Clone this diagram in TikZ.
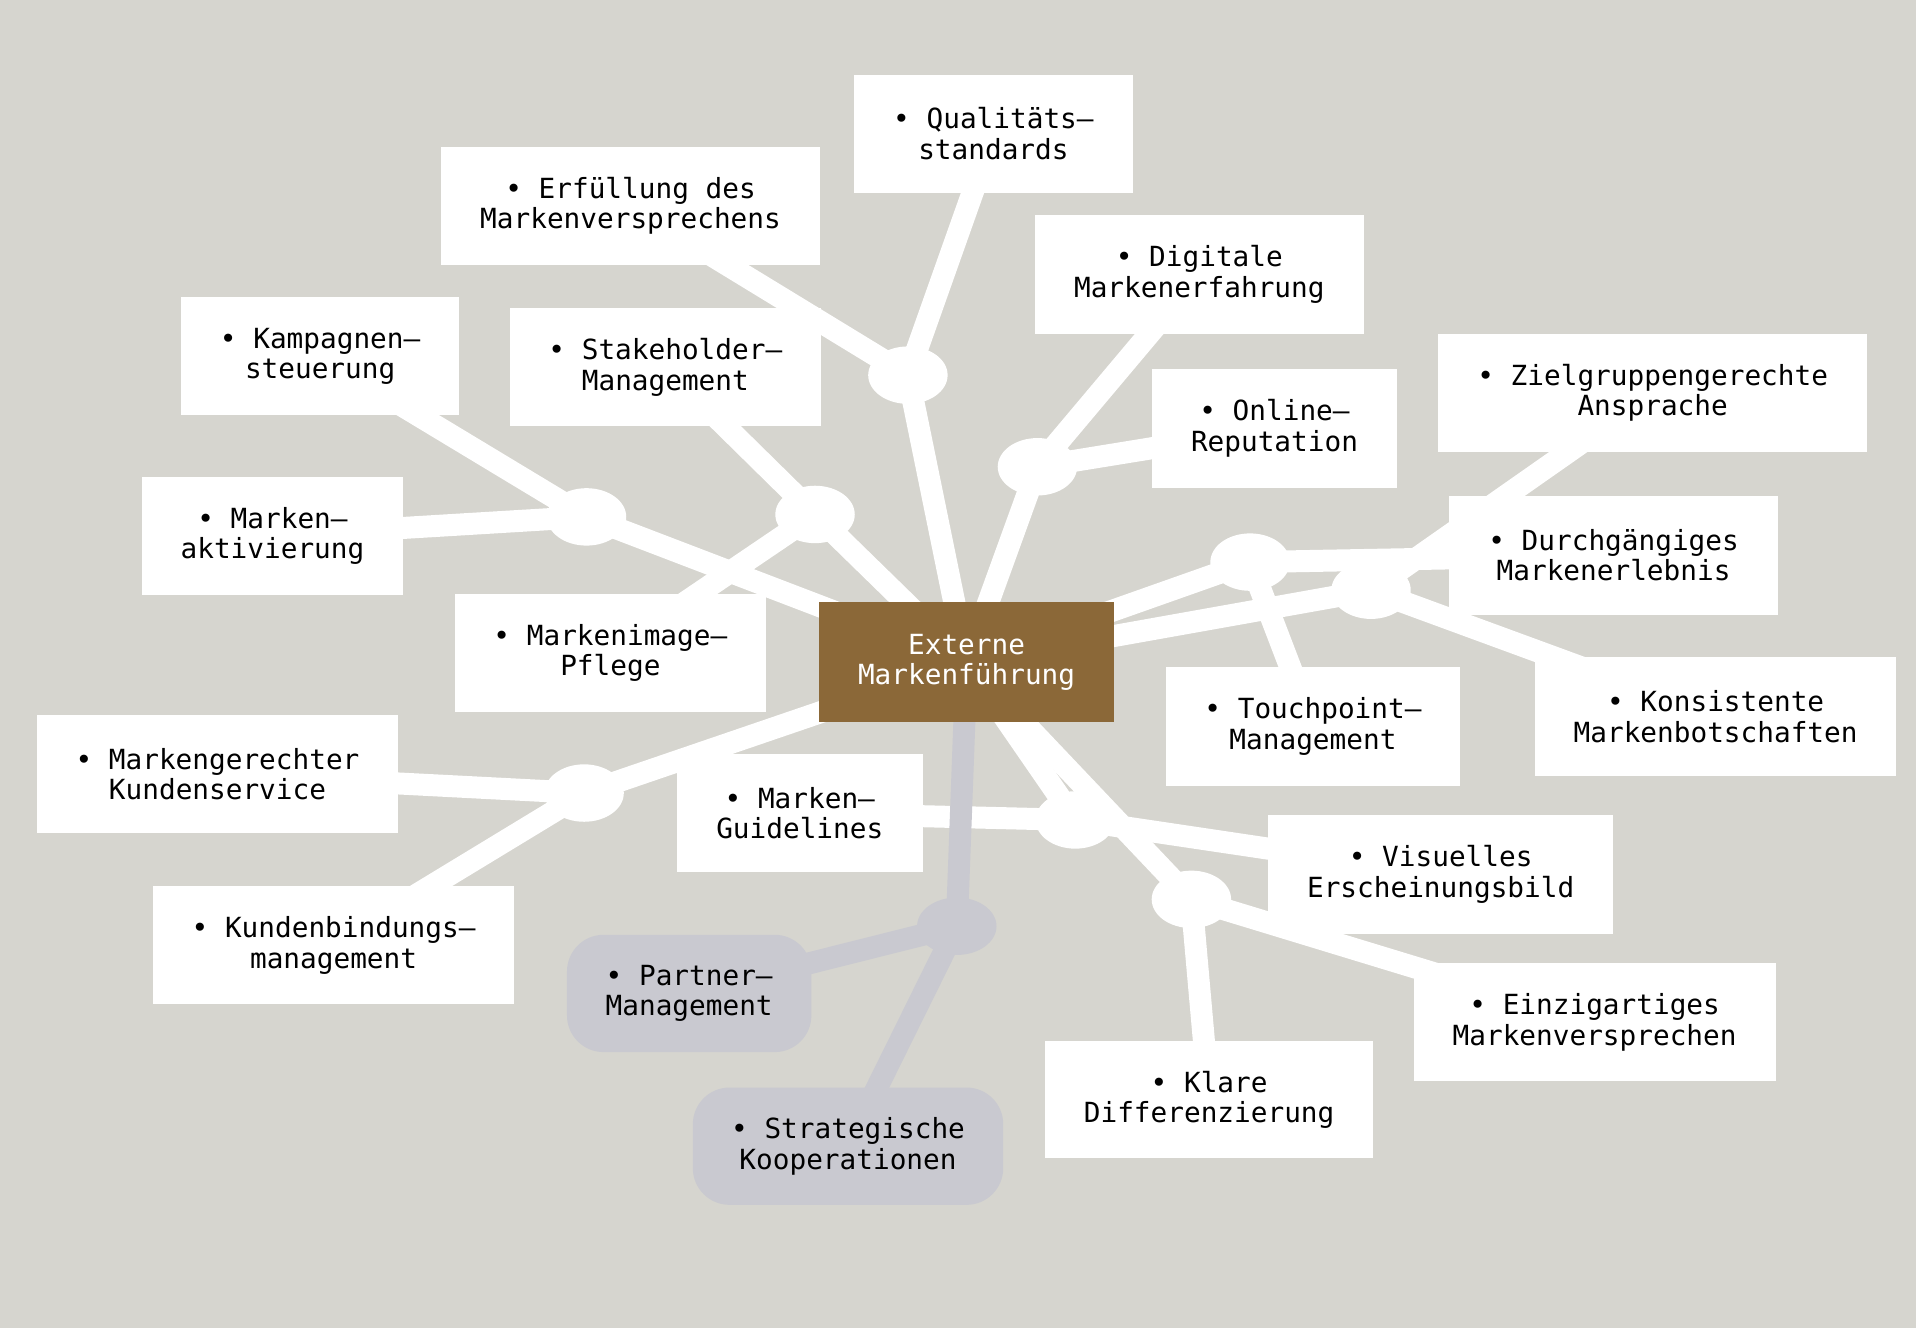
\documentclass[tikz,border=0pt]{standalone}
\usepackage{fontspec}
\setmainfont{DejaVu Sans Mono}
\usetikzlibrary{shapes.geometric,backgrounds}
\definecolor{bgc}{RGB}{214,213,207}
\definecolor{mbrown}{RGB}{139,104,56}
\definecolor{lgrey}{RGB}{201,201,208}
\begin{document}
\begin{tikzpicture}[x=0.5pt,y=-0.5pt,
  txt/.style={align=center,font=\fontsize{11.35pt}{12.5pt}\selectfont},
  box/.style 2 args={txt,fill=white,text=black,inner sep=0pt,minimum width=#1*0.5pt,minimum height=#2*0.5pt},
  gbox/.style 2 args={txt,fill=lgrey,text=black,inner sep=0pt,rounded corners=15pt,minimum width=#1*0.5pt,minimum height=#2*0.5pt},
  mainbox/.style 2 args={txt,fill=mbrown,text=white,inner sep=0pt,minimum width=#1*0.5pt,minimum height=#2*0.5pt},
  junc/.style={ellipse,fill=white,inner sep=0pt,minimum width=32.5pt,minimum height=23.5pt},
  gjunc/.style={junc,fill=lgrey},
  conn/.style={white,line width=9pt},
  gconn/.style={lgrey,line width=9pt}]
\useasboundingbox (0,0) rectangle (1568,1087);

% junctions
\node[junc] (j1) at (743,307) {};
\node[junc] (j2) at (849,382) {};
\node[junc] (j3) at (480,423) {};
\node[junc] (j4) at (667,421) {};
\node[junc] (j5) at (1023,460) {};
\node[junc] (j6) at (1122,483) {};
\node[junc] (j7) at (478,649) {};
\node[junc] (j8) at (880,671) {};
\node[junc] (j9) at (975,736) {};
\node[gjunc] (j10) at (783,758) {};

% boxes
\node[mainbox={242}{98}] (c) at (791,542) {Externe\\Markenführung};
\node[box={228}{97}] (qual) at (813,109.5) {• Qualitäts–\\standards};
\node[box={310}{97}] (erf) at (516,168.5) {• Erfüllung des\\Markenversprechens};
\node[box={269}{97}] (dig) at (981.5,224.5) {• Digitale\\Markenerfahrung};
\node[box={228}{97}] (kamp) at (262,291.5) {• Kampagnen–\\steuerung};
\node[box={255}{97}] (stake) at (544.5,300.5) {• Stakeholder–\\Management};
\node[box={200}{97}] (online) at (1043,350.5) {• Online–\\Reputation};
\node[box={351}{97}] (ziel) at (1352.5,321.5) {• Zielgruppengerechte\\Ansprache};
\node[box={214}{97}] (makt) at (223,438.5) {• Marken–\\aktivierung};
\node[box={269}{97}] (durch) at (1320.5,454.5) {• Durchgängiges\\Markenerlebnis};
\node[box={255}{97}] (mimg) at (499.5,534.5) {• Markenimage–\\Pflege};
\node[box={241}{97}] (touch) at (1074.5,594.5) {• Touchpoint–\\Management};
\node[box={296}{97}] (kons) at (1404,586.5) {• Konsistente\\Markenbotschaften};
\node[box={296}{97}] (kserv) at (178,633.5) {• Markengerechter\\Kundenservice};
\node[box={201}{97}] (guide) at (654.5,665.5) {• Marken–\\Guidelines};
\node[box={282}{97}] (visu) at (1179,715.5) {• Visuelles\\Erscheinungsbild};
\node[box={296}{97}] (kbind) at (273,773.5) {• Kundenbindungs–\\management};
\node[gbox={200}{96}] (partner) at (564,813) {• Partner–\\Management};
\node[box={296}{97}] (einz) at (1305,836.5) {• Einzigartiges\\Markenversprechen};
\node[box={269}{96}] (klare) at (989.5,900) {• Klare\\Differenzierung};
\node[gbox={254}{96}] (strat) at (694,938) {• Strategische\\Kooperationen};

\begin{scope}[on background layer]
\fill[bgc] (0,0) rectangle (1568,1087);
\draw[conn] (c.center) -- (j1.center);
\draw[conn] (j1.center) -- (qual.center);
\draw[conn] (j1.center) -- (erf.center);
\draw[conn] (c.center) -- (j2.center);
\draw[conn] (j2.center) -- (dig.center);
\draw[conn] (j2.center) -- (online.center);
\draw[conn] (c.center) -- (j3.center);
\draw[conn] (j3.center) -- (kamp.center);
\draw[conn] (j3.center) -- (makt.center);
\draw[conn] (c.center) -- (j4.center);
\draw[conn] (j4.center) -- (stake.center);
\draw[conn] (j4.center) -- (mimg.center);
\draw[conn] (c.center) -- (j5.center);
\draw[conn] (j5.center) -- (durch.center);
\draw[conn] (j5.center) -- (touch.center);
\draw[conn] (c.center) -- (j6.center);
\draw[conn] (j6.center) -- (ziel.center);
\draw[conn] (j6.center) -- (kons.center);
\draw[conn] (c.center) -- (j7.center);
\draw[conn] (j7.center) -- (kserv.center);
\draw[conn] (j7.center) -- (kbind.center);
\draw[conn] (c.center) -- (j8.center);
\draw[conn] (j8.center) -- (guide.center);
\draw[conn] (j8.center) -- (visu.center);
\draw[conn] (c.center) -- (j9.center);
\draw[conn] (j9.center) -- (einz.center);
\draw[conn] (j9.center) -- (klare.center);
\draw[gconn] (c.center) -- (j10.center);
\draw[gconn] (j10.center) -- (partner.center);
\draw[gconn] (j10.center) -- (strat.center);
\end{scope}
\end{tikzpicture}
\end{document}
